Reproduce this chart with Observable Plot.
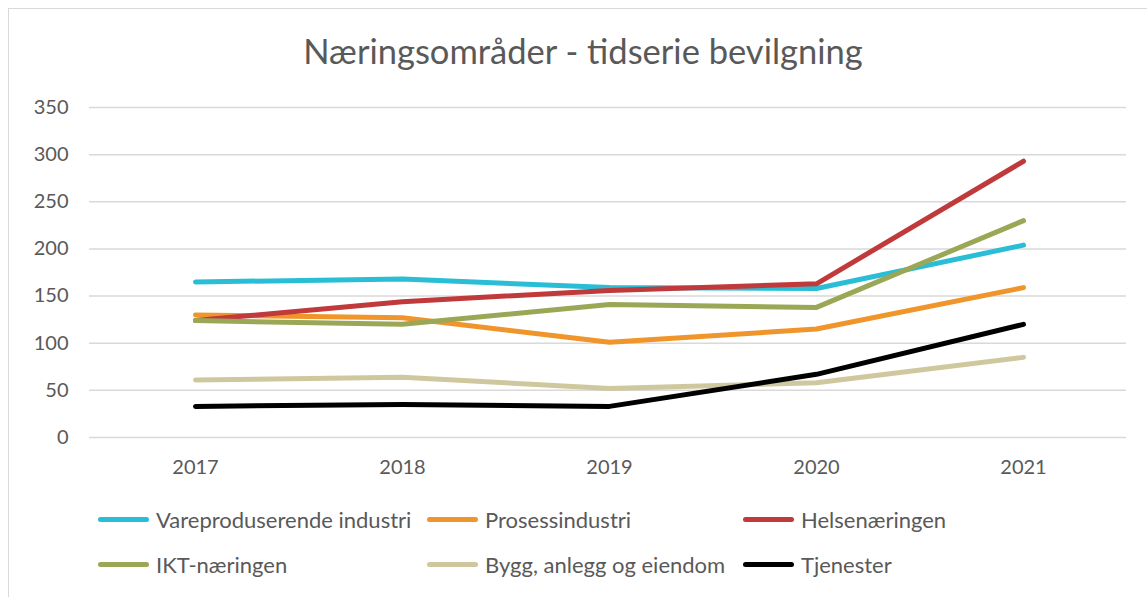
<!DOCTYPE html>
<html>
<head>
<meta charset="utf-8">
<script src="https://cdn.jsdelivr.net/npm/d3@7"></script>
<script src="https://cdn.jsdelivr.net/npm/@observablehq/plot@0.6"></script>
<style>
  html, body { margin: 0; padding: 0; background: #fff; }
  #wrap { position: relative; width: 1147px; height: 597px; overflow: hidden; font-family: Lato, "Open Sans", sans-serif; color: #595959; }
  #frame { position: absolute; left: 8px; top: 8px; width: 1160px; height: 620px; border: 1px solid #d9d9d9; box-sizing: border-box; }
  #title { position: absolute; left: 0; width: 1166px; top: 30px; text-align: center; font-size: 34.5px; color: #595959; white-space: nowrap; }
  #chart { position: absolute; left: 0; top: 0; }
  .item { position: absolute; display: flex; align-items: center; font-size: 22px; color: #595959; white-space: nowrap; }
  .sw { width: 51px; height: 5px; border-radius: 3px; margin-right: 7px; }
</style>
</head>
<body>
<div id="wrap">
  <div id="frame"></div>
  <div id="chart"></div>
  <div id="title">Næringsområder - tidserie bevilgning</div>
  <div id="legend"></div>
</div>
<script>
const years = ["2017", "2018", "2019", "2020", "2021"];
const seriesNames = ["Vareproduserende industri", "Prosessindustri", "Helsenæringen", "IKT-næringen", "Bygg, anlegg og eiendom", "Tjenester"];
const seriesColors = ["#29bed6", "#f0952b", "#c0393b", "#9ba757", "#cfc89e", "#000000"];
const vareproduserende = [165, 168, 159, 158, 204];
const prosessindustri = [130, 127, 101, 115, 159];
const helsenaeringen = [124, 144, 156, 163, 293];
const iktNaeringen = [124, 120, 141, 138, 230];
const bygg = [61, 64, 52, 58, 85];
const tjenester = [33, 35, 33, 67, 120];
const yTicks = [0, 50, 100, 150, 200, 250, 300, 350];

const seriesValues = [vareproduserende, prosessindustri, helsenaeringen, iktNaeringen, bygg, tjenester];
const data = [];
seriesNames.forEach((name, i) => {
  years.forEach((yr, j) => data.push({series: name, year: yr, value: seriesValues[i][j]}));
});

const plot = Plot.plot({
  width: 1147,
  height: 490,
  marginTop: 107,
  marginBottom: 53,
  marginLeft: 91,
  marginRight: 21,
  style: {fontFamily: "Lato, 'Open Sans', sans-serif", fontSize: "20px", color: "#595959", background: "transparent"},
  x: {type: "point", domain: years, padding: 0.5, label: null},
  y: {domain: [0, 350], label: null},
  color: {domain: seriesNames, range: seriesColors},
  marks: [
    Plot.ruleY(yTicks, {stroke: "#d9d9d9", strokeWidth: 1.5, insetLeft: -2}),
    Plot.axisY({ticks: yTicks, tickSize: 0, tickPadding: 23, label: null, fill: "#595959"}),
    Plot.axisX({tickSize: 0, tickPadding: 22, label: null, fill: "#595959"}),
    Plot.line(data, {x: "year", y: "value", z: "series", stroke: "series", strokeWidth: 5, strokeLinecap: "round", strokeLinejoin: "round"})
  ]
});
document.getElementById("chart").appendChild(plot);

const legendPos = [
  [98, 521], [427, 521], [743, 521],
  [98, 566], [427, 566], [743, 566]
];
const legend = document.getElementById("legend");
seriesNames.forEach((name, i) => {
  const it = document.createElement("div");
  it.className = "item";
  it.style.left = legendPos[i][0] + "px";
  it.style.top = (legendPos[i][1] - 15) + "px";
  const sw = document.createElement("div");
  sw.className = "sw";
  sw.style.background = seriesColors[i];
  const tx = document.createElement("span");
  tx.textContent = name;
  it.appendChild(sw);
  it.appendChild(tx);
  legend.appendChild(it);
});
</script>
</body>
</html>
